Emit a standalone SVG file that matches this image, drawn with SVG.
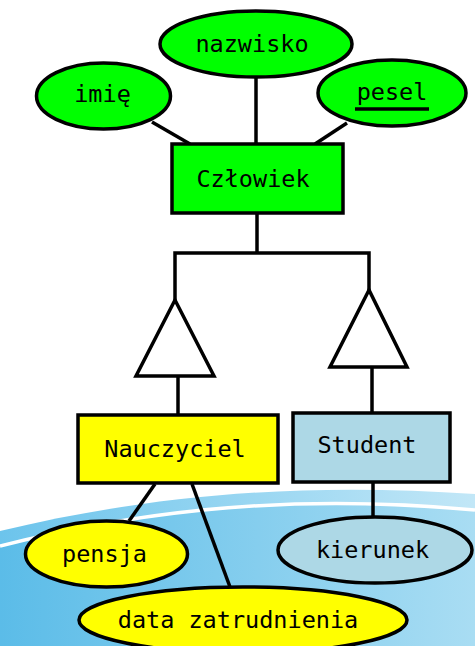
<svg xmlns="http://www.w3.org/2000/svg" width="475" height="646" viewBox="0 0 475 646">
<defs>
<linearGradient id="sea" x1="0" y1="0" x2="1" y2="0">
<stop offset="0" stop-color="#5bbce8"/>
<stop offset="1" stop-color="#a9ddf3"/>
</linearGradient>
<linearGradient id="band" x1="0" y1="0" x2="1" y2="0">
<stop offset="0" stop-color="#6cc4ec"/>
<stop offset="1" stop-color="#c2e7f7"/>
</linearGradient>
<style>
.s{stroke:#000;stroke-width:3.5;}
.ln{stroke:#000;stroke-width:3.5;fill:none;}
.g{fill:#00ff00;}
.y{fill:#ffff00;}
.b{fill:#add8e6;}
.tri{fill:#fff;stroke:#000;stroke-width:3.5;}
text{font-family:"DejaVu Sans Mono","Liberation Mono",monospace;font-size:23.5px;fill:#000;text-anchor:middle;}
</style>
</defs>
<rect width="475" height="646" fill="#fff"/>
<g id="background">
<path d="M0,531 C150,495 300,482 475,494 L475,646 L0,646 Z" fill="url(#band)"/>
<path d="M0,546 C150,508 300,494 475,510 L475,646 L0,646 Z" fill="url(#sea)"/>
<path d="M0,546 C150,508 300,494 475,510" fill="none" stroke="#fff" stroke-width="3.5"/>
</g>
<g id="connectors">
<line class="ln" x1="152" y1="122" x2="190" y2="144"/>
<line class="ln" x1="256" y1="78" x2="256" y2="144"/>
<line class="ln" x1="347" y1="123" x2="315" y2="144"/>
<polyline class="ln" points="257,213 257,253"/>
<polyline class="ln" points="175,300 175,253 369,253 369,290"/>
<line class="ln" x1="178" y1="376" x2="178" y2="415"/>
<line class="ln" x1="372" y1="367" x2="372" y2="413"/>
<line class="ln" x1="155" y1="484" x2="129" y2="521"/>
<line class="ln" x1="192" y1="484" x2="230" y2="587"/>
<line class="ln" x1="373" y1="482" x2="373" y2="517"/>
</g>
<g id="tri-left"><polygon class="tri" points="175,300 136,376 214,376"/></g>
<g id="tri-right"><polygon class="tri" points="369,290 330,367 407,367"/></g>
<g id="nazwisko"><ellipse class="g s" cx="256" cy="44" rx="96" ry="33"/><text x="252" y="52">nazwisko</text></g>
<g id="imie"><ellipse class="g s" cx="103.5" cy="96" rx="67" ry="33"/><text x="102.5" y="102">imię</text></g>
<g id="pesel"><ellipse class="g s" cx="392" cy="93" rx="74" ry="33"/><text x="392" y="100">pesel</text><line x1="355" y1="109" x2="429" y2="109" stroke="#000" stroke-width="3.5"/></g>
<g id="czlowiek"><rect class="g s" x="172" y="144" width="171" height="69"/><text x="253" y="187">Człowiek</text></g>
<g id="nauczyciel"><rect class="y s" x="78" y="415" width="200" height="68"/><text x="175" y="457">Nauczyciel</text></g>
<g id="student"><rect class="b s" x="293" y="413" width="157" height="69"/><text x="367" y="453">Student</text></g>
<g id="pensja"><ellipse class="y s" cx="106.5" cy="554" rx="81" ry="33"/><text x="104.5" y="562">pensja</text></g>
<g id="kierunek"><ellipse class="b s" cx="375" cy="550" rx="97" ry="33"/><text x="372.5" y="558">kierunek</text></g>
<g id="data"><ellipse class="y s" cx="243" cy="620" rx="164" ry="33"/><text x="238" y="628">data zatrudnienia</text></g>
</svg>
